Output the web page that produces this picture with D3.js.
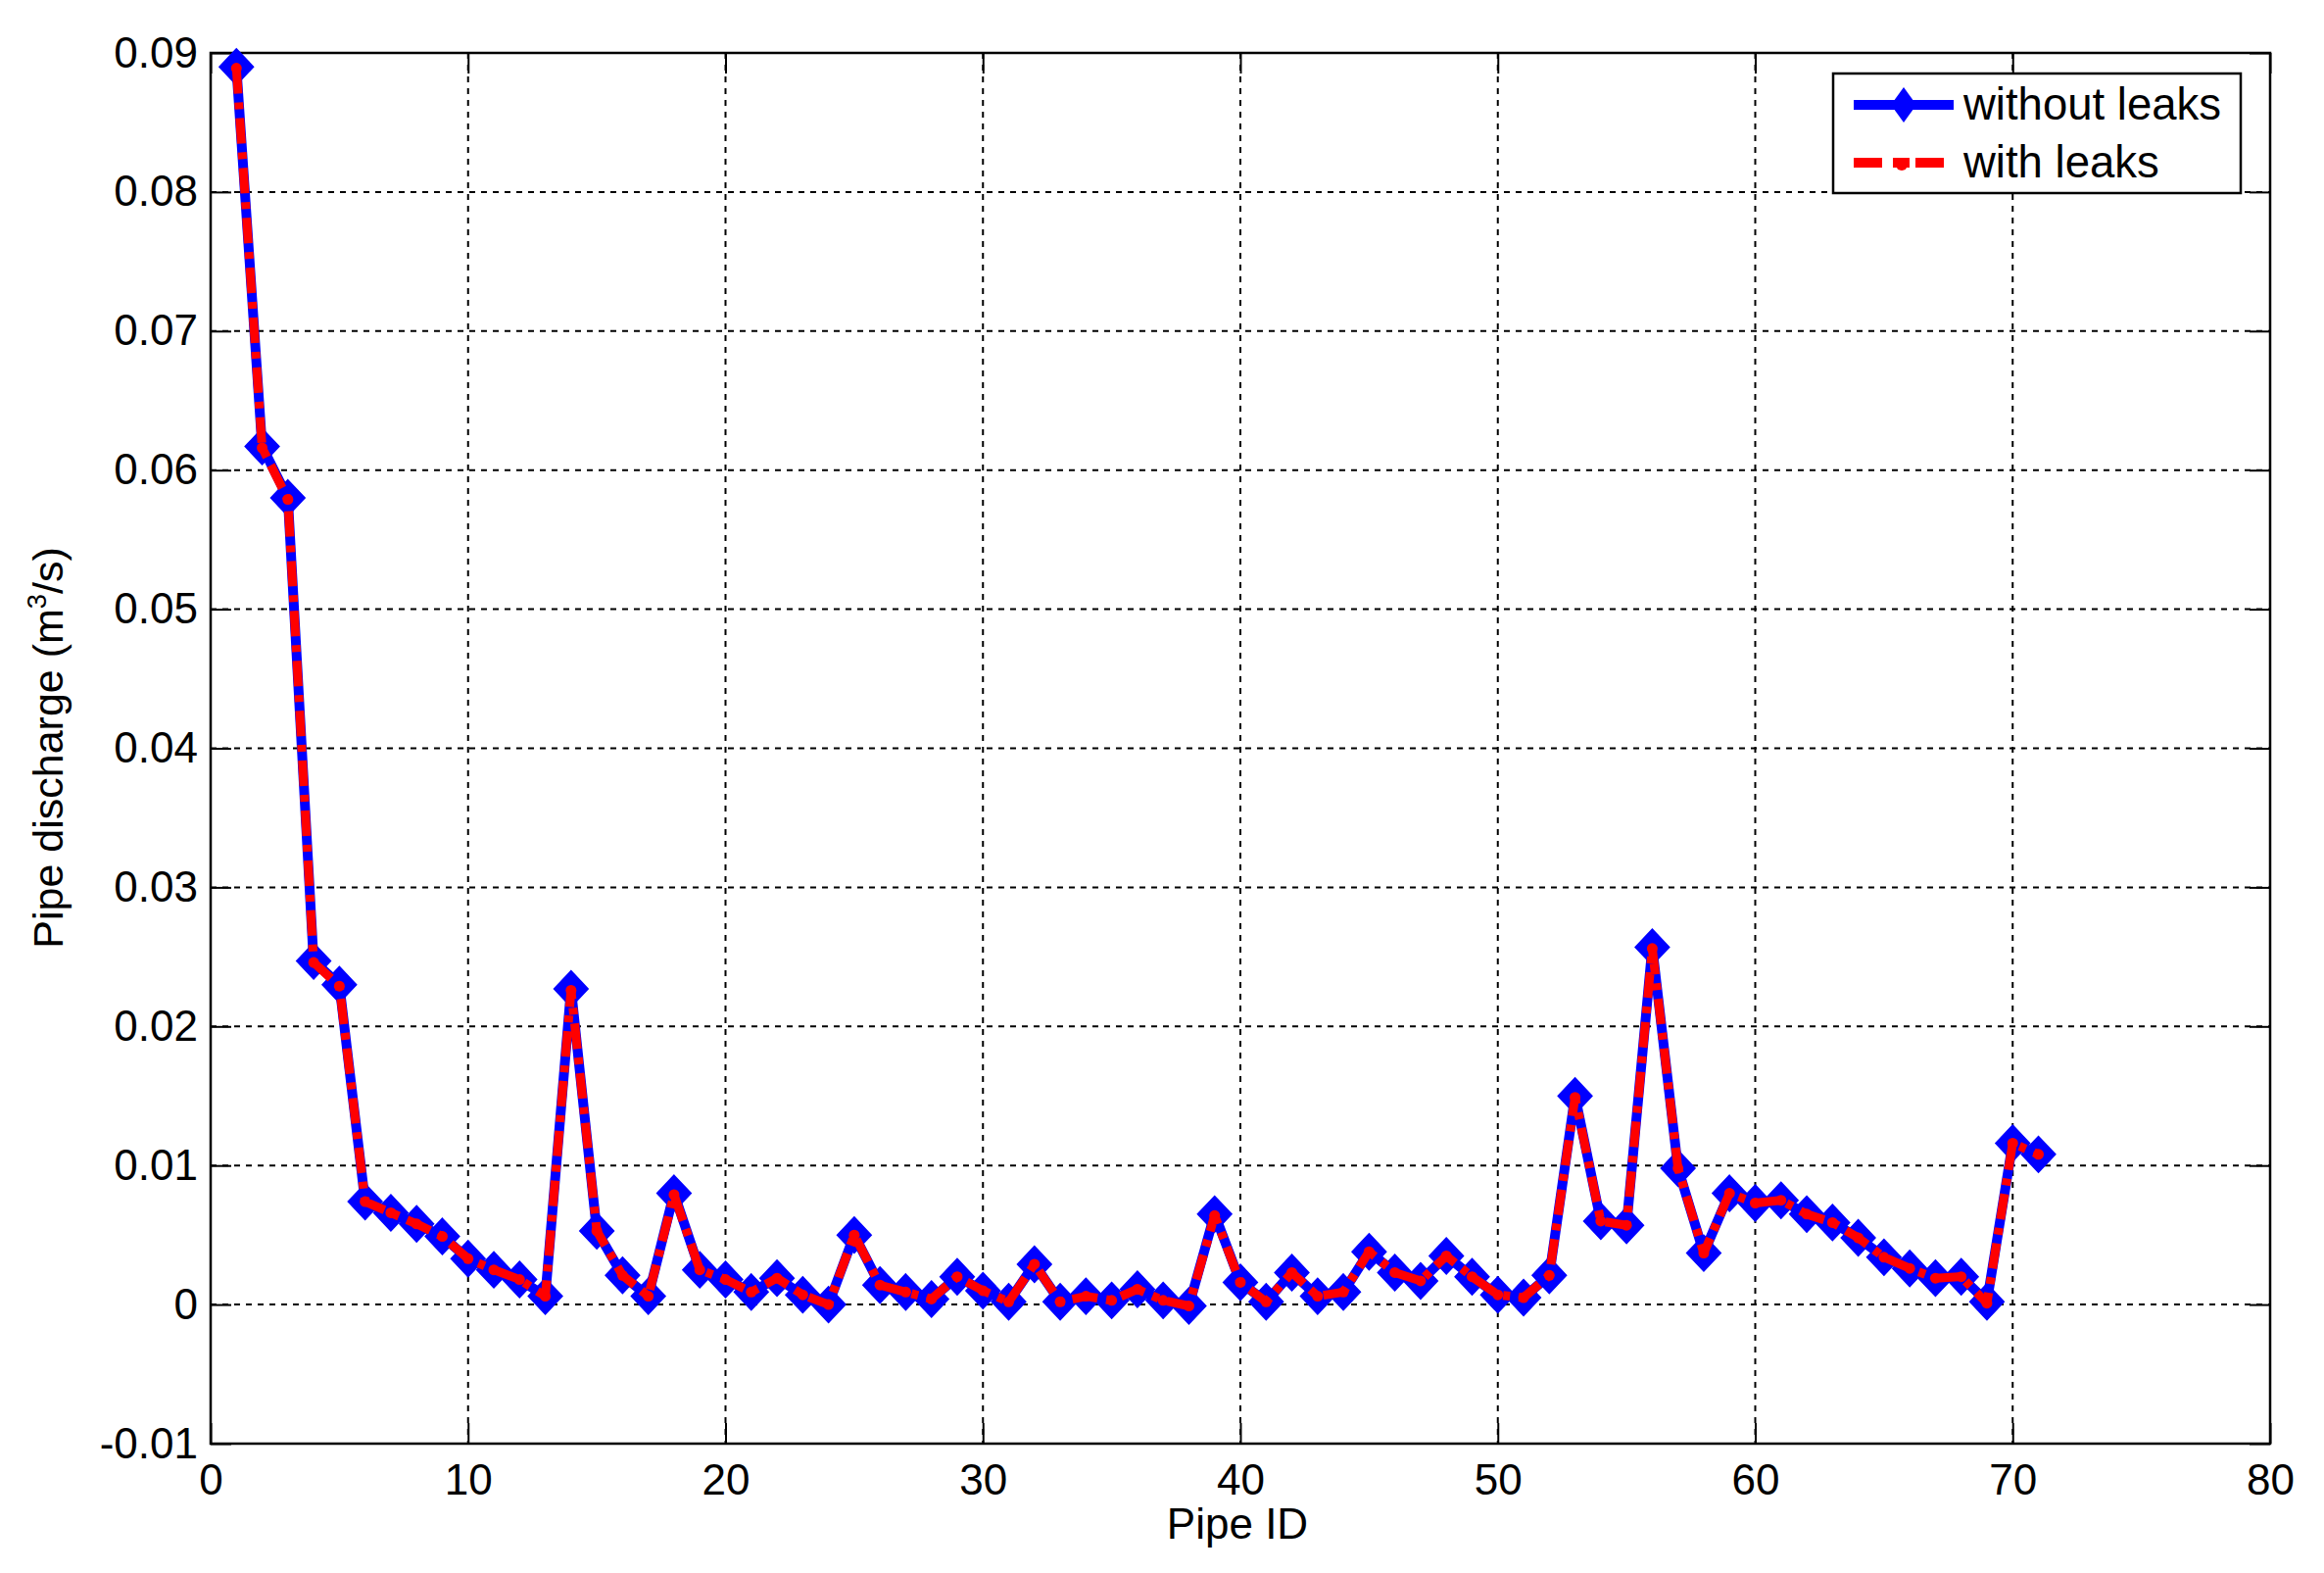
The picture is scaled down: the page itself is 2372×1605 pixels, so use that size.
<!DOCTYPE html>
<html>
<head>
<meta charset="utf-8">
<script src="https://cdn.jsdelivr.net/npm/d3@7"></script>
<style>
  html, body { margin: 0; padding: 0; background: #fff; }
  svg { display: block; }
  text { font-family: "Liberation Sans", Arial, sans-serif; fill: #000; }
</style>
</head>
<body>
<script>
// ---- Data ----
const pipeIds = d3.range(1, 72); // pipe IDs 1..71
const withoutLeaks = [
  0.0890, 0.0617, 0.0580, 0.0247, 0.0230, 0.0074, 0.0066, 0.0058, 0.0049, 0.0033,
  0.0025, 0.0018, 0.0006, 0.0227, 0.0053, 0.0021, 0.0006, 0.0080, 0.0025, 0.0018,
  0.0009, 0.0019, 0.0007, 0.0000, 0.0050, 0.0014, 0.0009, 0.0004, 0.0020, 0.0010,
  0.0002, 0.0029, 0.0002, 0.0006, 0.0003, 0.0011, 0.0003, -0.0001, 0.0065, 0.0016,
  0.0002, 0.0023, 0.0006, 0.0009, 0.0038, 0.0023, 0.0017, 0.0035, 0.0020, 0.0007,
  0.0005, 0.0021, 0.0150, 0.0060, 0.0057, 0.0257, 0.0098, 0.0037, 0.0080, 0.0073,
  0.0075, 0.0065, 0.0059, 0.0048, 0.0034, 0.0026, 0.0019, 0.0020, 0.0002, 0.0116,
  0.0108
];
const withLeaks = [
  0.0889, 0.0616, 0.0579, 0.0246, 0.0229, 0.0074, 0.0066, 0.0058, 0.0049, 0.0033,
  0.0025, 0.0018, 0.0006, 0.0226, 0.0053, 0.0021, 0.0006, 0.0079, 0.0025, 0.0018,
  0.0009, 0.0019, 0.0007, 0.0000, 0.0050, 0.0014, 0.0009, 0.0004, 0.0020, 0.0010,
  0.0002, 0.0029, 0.0002, 0.0006, 0.0003, 0.0011, 0.0003, -0.0001, 0.0064, 0.0016,
  0.0002, 0.0023, 0.0006, 0.0009, 0.0038, 0.0023, 0.0017, 0.0035, 0.0020, 0.0007,
  0.0005, 0.0021, 0.0149, 0.0060, 0.0057, 0.0256, 0.0098, 0.0037, 0.0080, 0.0073,
  0.0075, 0.0065, 0.0059, 0.0048, 0.0034, 0.0026, 0.0019, 0.0020, 0.0001, 0.0116,
  0.0108
];
const xTicks = [0, 10, 20, 30, 40, 50, 60, 70, 80];
const xTickLabels = ["0", "10", "20", "30", "40", "50", "60", "70", "80"];
const yTicks = [-0.01, 0, 0.01, 0.02, 0.03, 0.04, 0.05, 0.06, 0.07, 0.08, 0.09];
const yTickLabels = ["-0.01", "0", "0.01", "0.02", "0.03", "0.04", "0.05", "0.06", "0.07", "0.08", "0.09"];
const seriesNames = ["without leaks", "with leaks"];
const xLabel = "Pipe ID";

// ---- Layout ----
const W = 2372, H = 1605;
const L = 215, R = 2317, T = 54, B = 1473;
const FS = 44;

const svg = d3.select("body").append("svg").attr("width", W).attr("height", H);

const x = d3.scaleLinear().domain([0, 80]).range([L, R]);
const y = d3.scaleLinear().domain([-0.01, 0.09]).range([B, T]);

// grid
const grid = svg.append("g").attr("stroke", "#000").attr("stroke-width", 2).attr("stroke-dasharray", "6,6");
grid.selectAll("line.gx").data(xTicks.slice(1, -1)).join("line")
  .attr("x1", d => x(d)).attr("x2", d => x(d)).attr("y1", T).attr("y2", B);
grid.selectAll("line.gy").data(yTicks.slice(1, -1)).join("line")
  .attr("y1", d => y(d)).attr("y2", d => y(d)).attr("x1", L).attr("x2", R);

// axes (inward ticks)
const tickLen = 21;
function styleAxis(g) {
  g.selectAll(".domain").remove();
  g.selectAll(".tick line").attr("stroke", "#000").attr("stroke-width", 2);
  g.selectAll(".tick text").attr("font-size", FS).attr("font-family", "Liberation Sans, Arial, sans-serif").attr("fill", "#000");
}
svg.append("g").attr("transform", `translate(0,${B})`)
  .call(d3.axisBottom(x).tickValues(xTicks).tickFormat((d, i) => xTickLabels[i]).tickSize(-tickLen).tickPadding(21))
  .call(styleAxis);
svg.append("g").attr("transform", `translate(0,${T})`)
  .call(d3.axisTop(x).tickValues(xTicks).tickFormat("").tickSize(-tickLen))
  .call(styleAxis);
svg.append("g").attr("transform", `translate(${L},0)`)
  .call(d3.axisLeft(y).tickValues(yTicks).tickFormat((d, i) => yTickLabels[i]).tickSize(-tickLen).tickPadding(13))
  .call(styleAxis);
svg.append("g").attr("transform", `translate(${R},0)`)
  .call(d3.axisRight(y).tickValues(yTicks).tickFormat("").tickSize(-tickLen))
  .call(styleAxis);

// box
svg.append("rect").attr("x", L).attr("y", T).attr("width", R - L).attr("height", B - T)
  .attr("fill", "none").attr("stroke", "#000").attr("stroke-width", 2.5);

// data series
const blueData = pipeIds.map((id, i) => [id, withoutLeaks[i]]);
const redData = pipeIds.map((id, i) => [id, withLeaks[i]]);
const line = d3.line().x(d => x(d[0])).y(d => y(d[1]));

const diamond = (cx, cy, hw, hh) => `M${cx},${cy - hh}L${cx + hw},${cy}L${cx},${cy + hh}L${cx - hw},${cy}Z`;

svg.append("path").datum(blueData).attr("d", line)
  .attr("fill", "none").attr("stroke", "#0000ff").attr("stroke-width", 10).attr("stroke-linejoin", "round");
svg.append("g").selectAll("path").data(blueData).join("path")
  .attr("d", d => diamond(x(d[0]), y(d[1]), 17, 18)).attr("fill", "#0000ff")
  .attr("stroke", "#0000ff").attr("stroke-width", 2);

svg.append("path").datum(redData).attr("d", line)
  .attr("fill", "none").attr("stroke", "#ff0000").attr("stroke-width", 9)
  .attr("stroke-dasharray", "26,9,7,9").attr("stroke-linejoin", "round");
svg.append("g").selectAll("circle").data(redData).join("circle")
  .attr("cx", d => x(d[0])).attr("cy", d => y(d[1])).attr("r", 5.5).attr("fill", "#ff0000");

// axis labels
svg.append("text").attr("x", (L + R) / 2 - 3).attr("y", 1570).attr("text-anchor", "middle")
  .attr("font-size", FS).text(xLabel);

const yl = svg.append("text").attr("transform", "translate(64,763) rotate(-90)")
  .attr("text-anchor", "middle").attr("font-size", FS - 1);
yl.append("tspan").text("Pipe discharge (m");
yl.append("tspan").attr("font-size", FS * 0.62).attr("dy", -17).text("3");
yl.append("tspan").attr("dy", 17).text("/s)");

// legend
const lg = svg.append("g");
lg.append("rect").attr("x", 1871).attr("y", 75).attr("width", 416).attr("height", 122)
  .attr("fill", "#fff").attr("stroke", "#000").attr("stroke-width", 2.5);
const ly = [107, 166];
lg.append("line").attr("x1", 1892).attr("x2", 1994).attr("y1", ly[0]).attr("y2", ly[0])
  .attr("stroke", "#0000ff").attr("stroke-width", 10);
lg.append("path").attr("d", diamond(1943, ly[0], 13, 18)).attr("fill", "#0000ff");
lg.append("line").attr("x1", 1892).attr("x2", 1921).attr("y1", ly[1]).attr("y2", ly[1])
  .attr("stroke", "#ff0000").attr("stroke-width", 10);
lg.append("line").attr("x1", 1932).attr("x2", 1949).attr("y1", ly[1]).attr("y2", ly[1])
  .attr("stroke", "#ff0000").attr("stroke-width", 10);
lg.append("line").attr("x1", 1955).attr("x2", 1984).attr("y1", ly[1]).attr("y2", ly[1])
  .attr("stroke", "#ff0000").attr("stroke-width", 10);
lg.append("circle").attr("cx", 1941).attr("cy", ly[1] + 2).attr("r", 6).attr("fill", "#ff0000");
lg.selectAll("text").data(seriesNames).join("text")
  .attr("x", 2004).attr("y", (d, i) => ly[i] + 15).attr("font-size", 45.5).text(d => d);
</script>
</body>
</html>
